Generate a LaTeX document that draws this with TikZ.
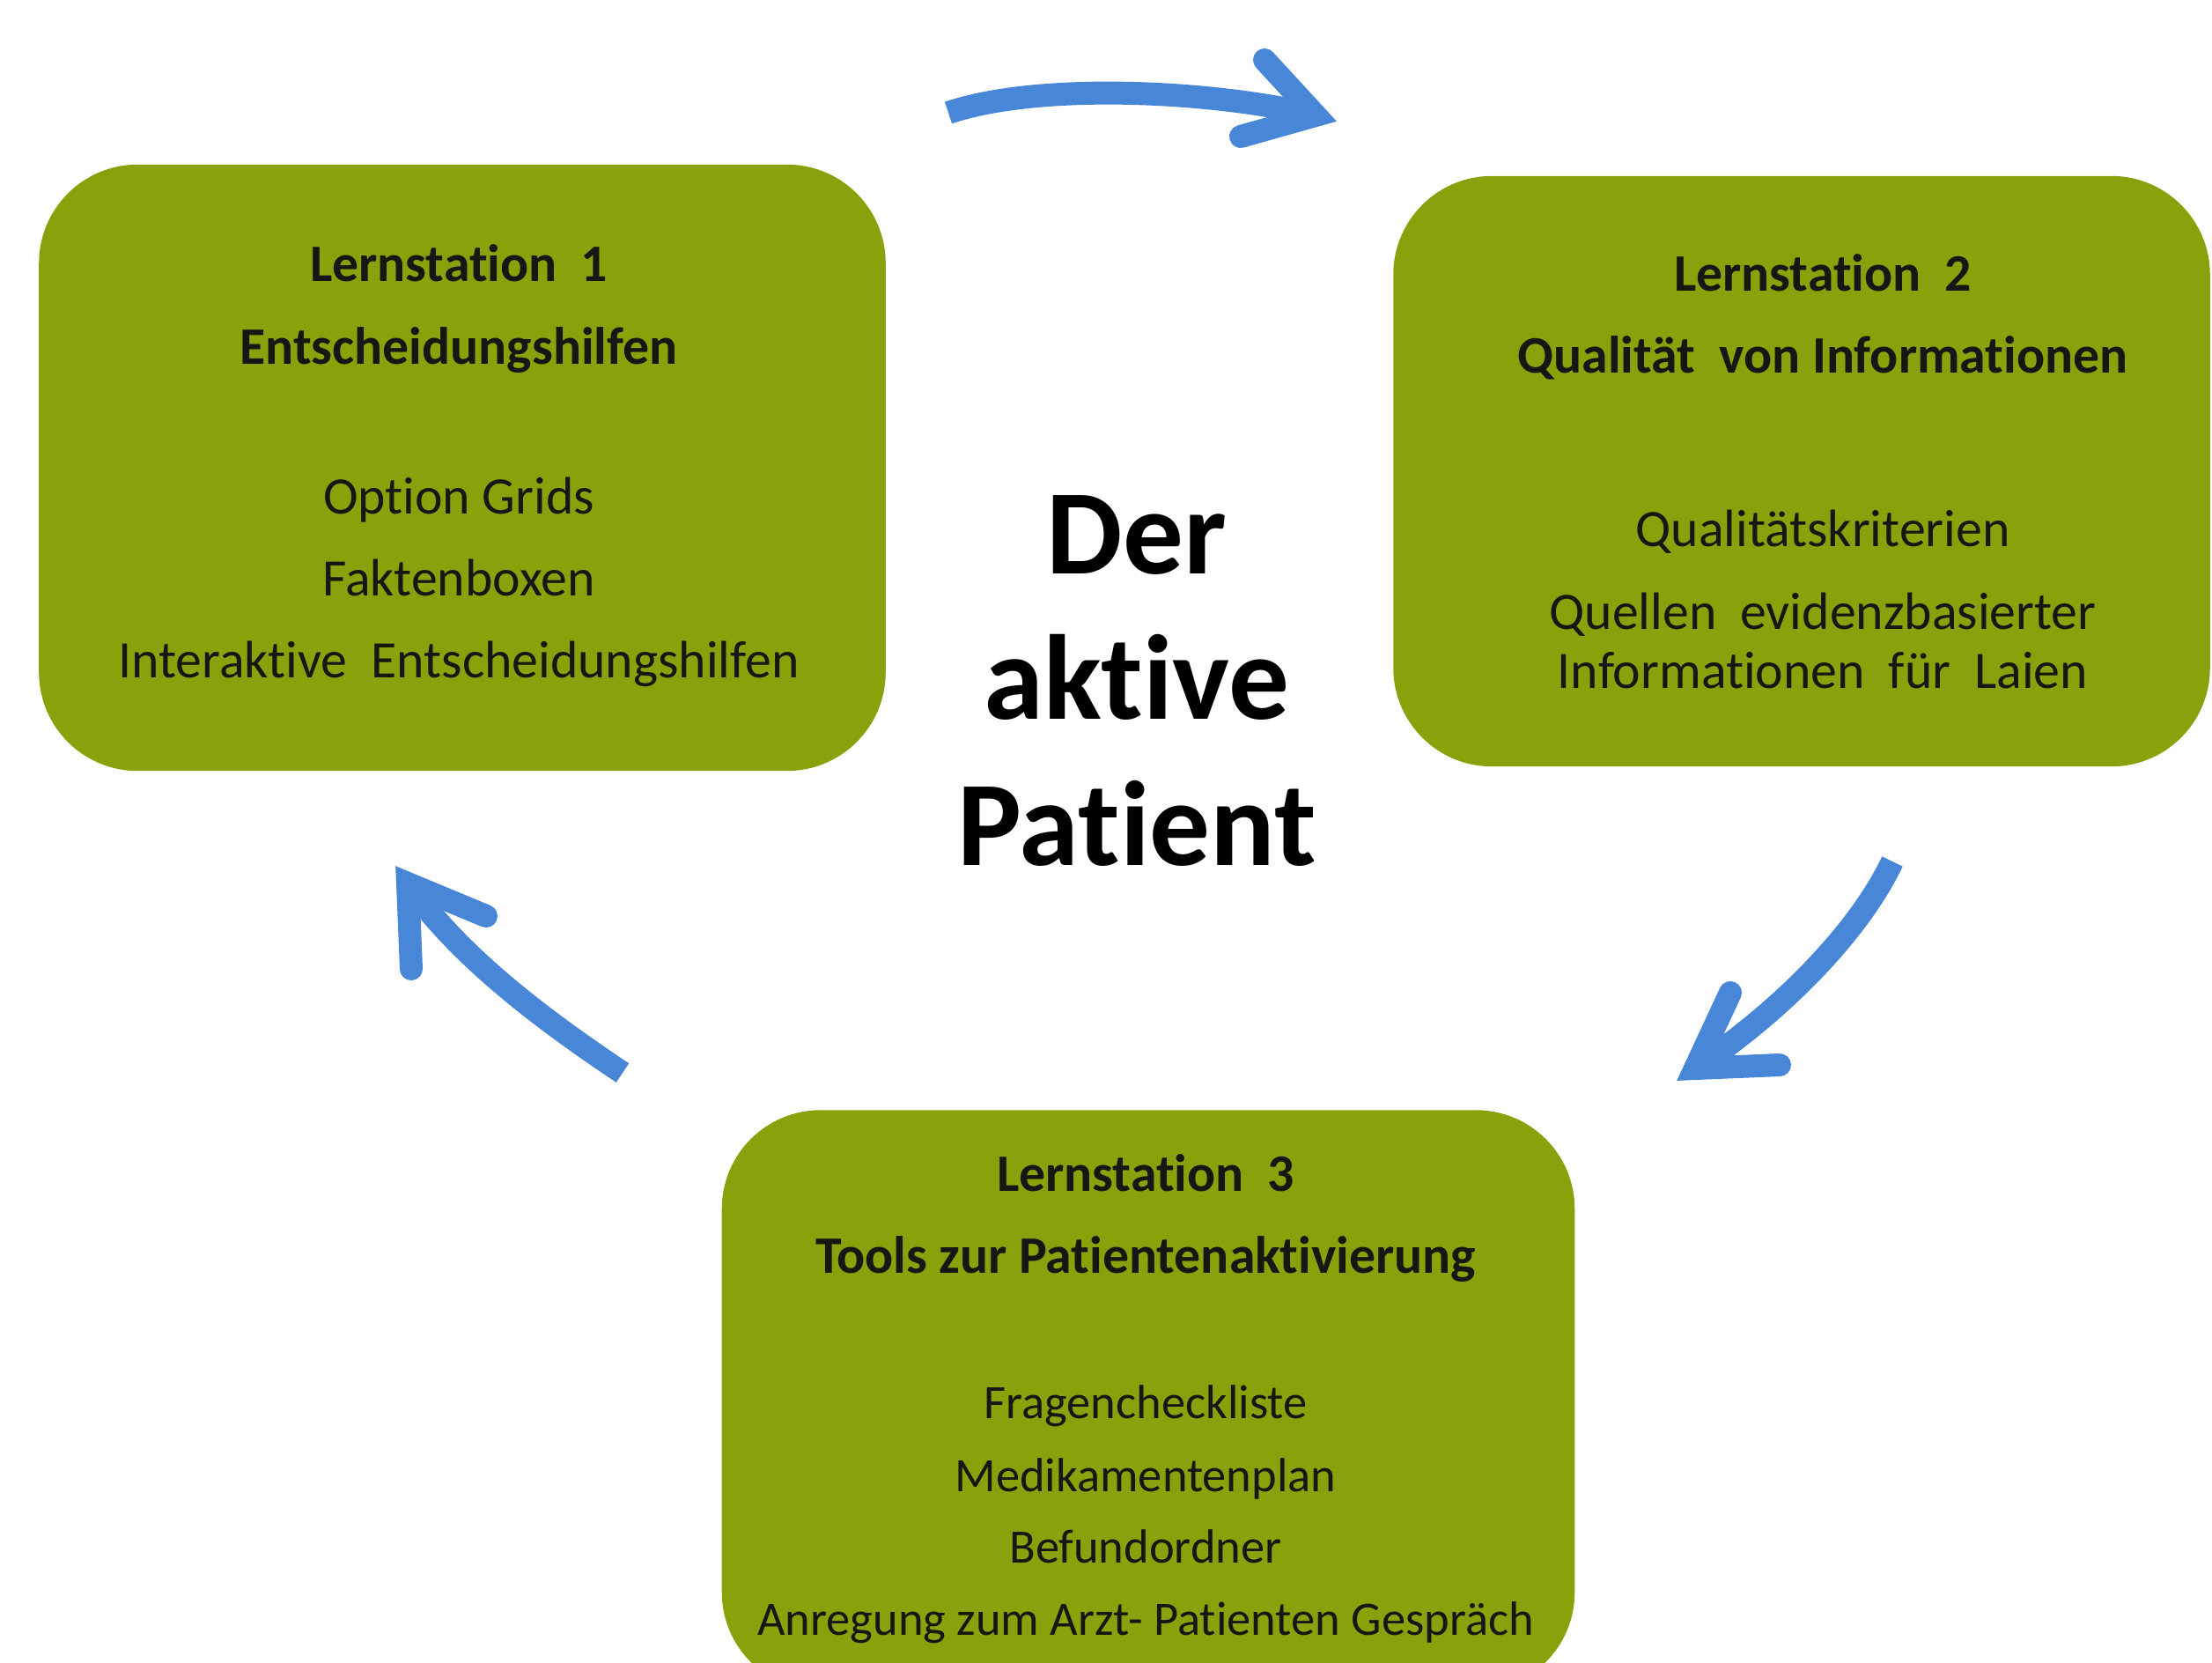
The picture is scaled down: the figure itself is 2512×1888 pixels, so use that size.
\documentclass[tikz,border=0pt]{standalone}
\usepackage{fontspec}
\setmainfont{Carlito}[Ligatures={NoCommon}]
\usetikzlibrary{positioning}
\definecolor{stationgreen}{RGB}{138,161,11}
\definecolor{loopblue}{RGB}{72,134,216}
\definecolor{textblack}{RGB}{22,22,18}
\newcommand{\toolfont}{\fontsize{15.5}{26.5}\selectfont}

\begin{document}
\begin{tikzpicture}[x=0.01cm,y=-0.01cm]

\tikzset{
  station/.style={rectangle, fill=stationgreen, draw=none, rounded corners=1.12cm,
  inner sep=0pt},
  stationtext/.style={align=center, text=textblack, inner sep=0pt,
  font=\fontsize{17}{26.5}\selectfont},
  centertext/.style={align=center, text=black, inner sep=0pt,
  font=\fontsize{39}{47}\selectfont\bfseries},
  loopline/.style={draw=loopblue, line width=0.26cm},
  loophead/.style={loopline, line cap=round, line join=miter},
}

\useasboundingbox (0,0) rectangle (2512,1888);

% boxes
\node[station, minimum width=9.61cm, minimum height=6.88cm] (box1) at (525,531) {};
\node[station, minimum width=9.27cm, minimum height=6.70cm] (box2) at (2046,535) {};
\node[station, minimum width=9.68cm, minimum height=6.59cm] (box3) at (1304,1590) {};

% texts
\node[stationtext] (st1) at (521,529) {
  \textbf{Lernstation\ \ 1}\\
  \textbf{Entscheidungshilfen}\\[21.9pt]
  Option\ Grids\\
  Faktenboxen\\
  Interaktive\ \ Entscheidungshilfen};
\node[stationtext] (st2) at (2070,535) {
  \textbf{Lernstation\ \ 2}\\
  \textbf{Qualität\ \ von\ Informationen}\\[29.6pt]
  Qualitätskriterien\\
  Quellen\ \ evidenzbasierter\\[-7.5pt]
  Informationen\ \ für\ \ Laien};
\node[stationtext] (st3) at (1301,1588) {
  \textbf{Lernstation\ \ 3}\\
  \textbf{Tools zur Patientenaktivierung}\\[20.5pt]
  \toolfont Fragencheckliste\\[-2.9pt]
  \toolfont Medikamentenplan\\[-3.7pt]
  \toolfont Befundordner\\[-3.2pt]
  \toolfont Anregung zum Arzt- Patienten Gespräch};
\node[centertext] (patient) at (1291,773) {Der\\aktive\\Patient};

% arrows
\coordinate (a1s) at (1077,128);
\coordinate (a1t) at (1494,131);
\coordinate (a2s) at (2149,978);
\coordinate (a2t) at (1925,1213);
\coordinate (a3s) at (707,1218);
\coordinate (a3t) at (463,1003);

\draw[loopline] (a1s) .. controls (1180,93) and (1380,103) .. (a1t);
\draw[loophead] (1436,68) -- (a1t) -- (1409,155);

\draw[loopline] (a2s) .. controls (2110,1060) and (2020,1150) .. (a2t);
\draw[loophead] (1965,1127) -- (a2t) -- (2021,1209);

\draw[loopline] (a3s) .. controls (617,1158) and (521,1086) .. (a3t);
\draw[loophead] (467,1100) -- (a3t) -- (552,1040);
\end{tikzpicture}
\end{document}
